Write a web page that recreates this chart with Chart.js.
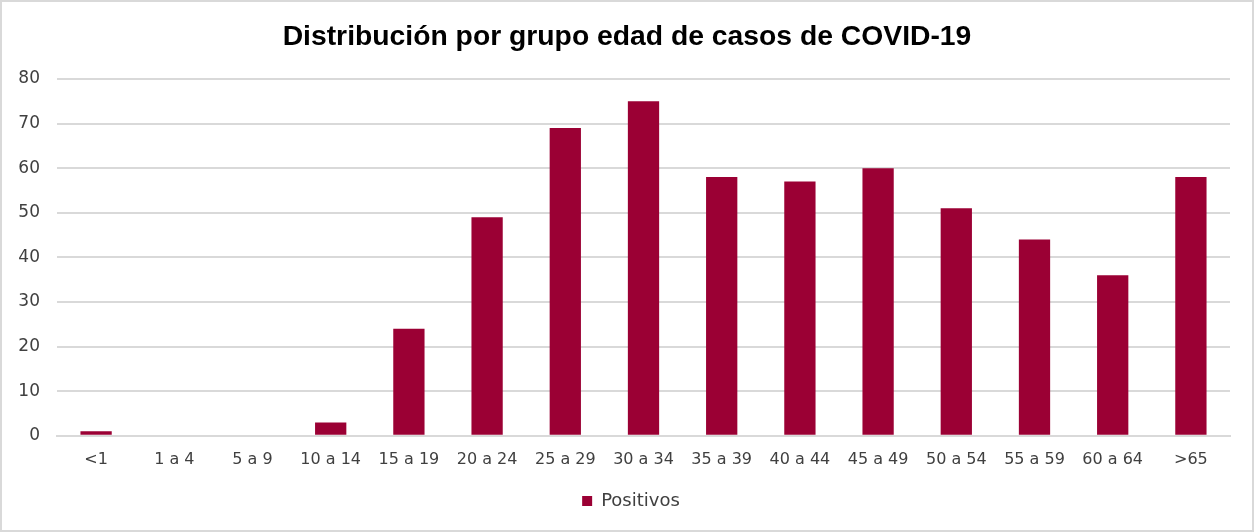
<!DOCTYPE html>
<html><head><meta charset="utf-8">
<script src="https://cdn.jsdelivr.net/npm/chart.js@4"></script>
<style>
html,body{margin:0;padding:0;background:#fff;}
#wrap{width:1254px;height:532px;box-sizing:border-box;border:2px solid #d9d9d9;background:#fff;}
</style></head><body>
<div id="wrap"><canvas id="c" width="1250" height="528"></canvas></div>
<script>
const categories = ["<1","1 a 4","5 a 9","10 a 14","15 a 19","20 a 24","25 a 29","30 a 34","35 a 39","40 a 44","45 a 49","50 a 54","55 a 59","60 a 64",">65"];
const positivos = [1,0,0,3,24,49,69,75,58,57,60,51,44,36,58];
const yTicks = [0,10,20,30,40,50,60,70,80];
const seriesName = "Positivos";
const titleText = "Distribución por grupo edad de casos de COVID-19";

const centerShift = {
  id: 'centerShift',
  afterLayout(chart) {
    if (chart.titleBlock) chart.titleBlock.left += 18;
    if (chart.legend) chart.legend.left += 26;
  }
};

new Chart(document.getElementById('c'), {
  type: 'bar',
  data: { labels: categories, datasets: [{ label: seriesName, data: positivos, backgroundColor: '#9b0034', borderWidth: 0, categoryPercentage: 1.0, barPercentage: 0.4 }] },
  options: {
    responsive: false, animation: false,
    layout: { padding: { left: 4, right: 22, top: 12, bottom: 10 } },
    plugins: {
      title: { display: true, text: titleText, color: '#000', font: { family: 'Liberation Sans', size: 28.3, weight: 'bold' }, padding: { top: 6, bottom: 25 } },
      legend: { position: 'bottom', labels: { color: '#404040', font: { family: 'DejaVu Sans', size: 18 }, boxWidth: 10, boxHeight: 10, padding: 9 } },
      tooltip: { enabled: false }
    },
    scales: {
      x: { grid: { display: false, drawTicks: false }, border: { display: true, color: '#d9d9d9', width: 2 }, ticks: { color: '#404040', font: { family: 'DejaVu Sans', size: 16 }, padding: 14, maxRotation: 0 } },
      y: { min: 0, max: 80, afterBuildTicks: a => { a.ticks = yTicks.map(v => ({ value: v })); }, afterFit: a => { a.width = 51; }, grid: { color: '#d9d9d9', lineWidth: 2, drawTicks: false }, border: { display: false }, ticks: { color: '#404040', font: { family: 'DejaVu Sans', size: 17 }, padding: 17 } }
    }
  },
  plugins: [centerShift]
});
</script></body></html>
